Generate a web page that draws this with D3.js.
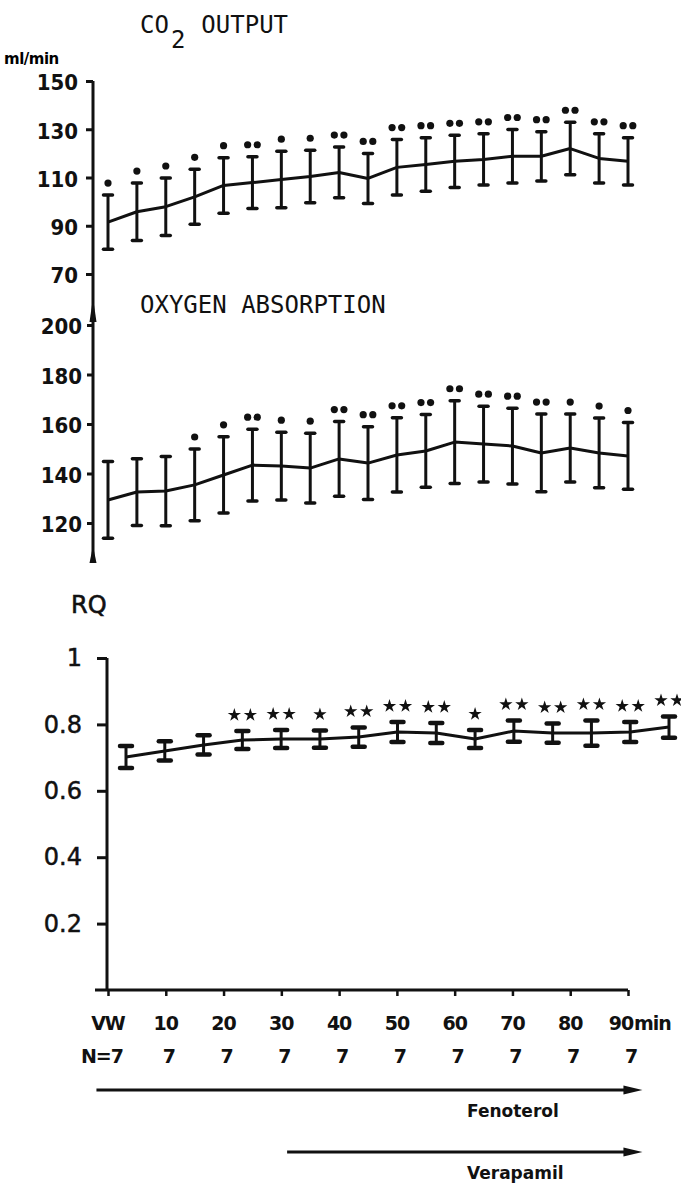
<!DOCTYPE html>
<html>
<head>
<meta charset="utf-8">
<script src="https://cdn.jsdelivr.net/npm/d3@7/dist/d3.min.js"></script>
<style>
body{margin:0;background:#fff;}
svg{display:block;}
.title{font-family:"DejaVu Sans Mono",monospace;font-size:24px;fill:#111;}
.ylab text{font-family:"Liberation Sans Narrow","DejaVu Sans Condensed",sans-serif;font-weight:bold;font-size:22px;fill:#111;}
.rqlab text{font-family:"DejaVu Sans",sans-serif;font-size:24px;fill:#111;stroke:#111;stroke-width:0.5;}
.xlab{font-family:"DejaVu Sans",sans-serif;font-weight:bold;font-size:19px;fill:#111;letter-spacing:-1px;}
.drug{font-family:"DejaVu Sans",sans-serif;font-weight:bold;font-size:17px;fill:#111;}
</style>
</head>
<body>
<script>
(function(){

//sampling times (min) of the CO2 and O2 series
var timePoints = [0,5,10,15,20,25,30,35,40,45,50,55,60,65,70,75,80,85,90];

//CO2 output, ml/min (mean, SD, number of significance dots)
var co2Mean = [91.5,95.8,97.9,102,106.7,107.9,109.2,110.4,112.1,109.6,114.2,115.4,116.7,117.5,118.8,118.8,122,117.9,116.7];
var co2Sd   = [11.2,11.9,11.9,11.4,11.5,10.7,11.7,10.9,10.5,10.4,11.5,11.1,10.8,10.6,11.1,10.2,10.9,10.2,9.8];
var co2Sig  = [1,1,1,1,1,2,1,1,2,2,2,2,2,2,2,2,2,2,2];

//oxygen absorption, ml/min
var o2Mean = [129.3,132.5,132.9,135.4,139.4,143.4,143,142.2,145.9,144.2,147.5,149.1,152.7,151.9,151.1,148.3,150.3,148.3,147.1];
var o2Sd   = [15.5,13.5,14,14.5,15.4,14.5,13.7,14.1,15.1,14.7,15,14.7,16.7,15.3,15.3,15.7,13.7,14.1,13.5];
var o2Sig  = [0,0,0,1,1,2,1,1,2,2,2,2,2,2,2,2,1,1,1];

//respiratory quotient
var rqMean = [0.702,0.720,0.738,0.753,0.756,0.756,0.762,0.777,0.774,0.756,0.780,0.774,0.774,0.777,0.792];
var rqSd   = [0.033,0.029,0.029,0.027,0.027,0.026,0.029,0.030,0.030,0.027,0.032,0.029,0.038,0.030,0.032];
var rqSig  = [0,0,0,2,2,1,2,2,2,1,2,2,2,2,2];

//axis ticks and labels
var co2Ticks = [70,90,110,130,150];
var o2Ticks = [120,140,160,180,200];
var rqTicks = [0.2,0.4,0.6,0.8,1];
var timeTicks = [0,10,20,30,40,50,60,70,80,90];
var timeLabels = ["VW","10","20","30","40","50","60","70","80","90"];
var nLabels = ["N=7","7","7","7","7","7","7","7","7","7"];

//drug periods (min)
var drugNames = ["Fenoterol","Verapamil"];
var drugStart = [-2,31];
var drugEnd = [92.5,92.5];

var width = 681, height = 1183;

drawChart();

function drawChart(){

    var svg = d3.select("body").append("svg")
        .attr("width", width)
        .attr("height", height);

    //shared time scale
    var xTime = d3.scaleLinear().domain([0,90]).range([108,628]);

    //panel y scales
    var yCo2 = d3.scaleLinear().domain([70,150]).range([274,81]);
    var yO2 = d3.scaleLinear().domain([120,200]).range([523,325]);
    var yRq = d3.scaleLinear().domain([0,1]).range([990,658]);

    //rq points are spread on their own grid
    var xRq = d3.scalePoint().domain(d3.range(rqMean.length)).range([126,669]);

    //titles
    var t1 = svg.append("text").attr("class","title").attr("x",140).attr("y",33);
    t1.append("tspan").text("CO");
    t1.append("tspan").attr("dy",15).attr("dx",2).text("2");
    t1.append("tspan").attr("dy",-15).attr("dx",16).text("OUTPUT");

    svg.append("text").attr("class","title").attr("x",140).attr("y",313)
        .text("OXYGEN ABSORPTION");

    svg.append("text").attr("x",4).attr("y",64)
        .style("font-family","DejaVu Sans, sans-serif")
        .style("font-weight","bold").style("font-size","15px")
        .style("letter-spacing","-0.5px")
        .text("ml/min");

    svg.append("text").attr("x",71).attr("y",613)
        .style("font-family","DejaVu Sans, sans-serif")
        .style("font-size","24px").style("fill","#111")
        .style("stroke","#111").style("stroke-width","0.6")
        .text("RQ");

    //left axis of upper two panels (one continuous line)
    svg.append("line")
        .attr("x1",93).attr("x2",93).attr("y1",yCo2(150)).attr("y2",562)
        .attr("stroke","#111").attr("stroke-width",3);
    svg.append("path")
        .attr("d","M93,298 L89.5,322 L96.5,322 Z").attr("fill","#111");
    svg.append("path")
        .attr("d","M93,546 L89.5,563 L96.5,563 Z").attr("fill","#111");

    var axCo2 = svg.append("g").attr("class","ylab")
        .attr("transform","translate(93,0)")
        .call(d3.axisLeft(yCo2).tickValues(co2Ticks).tickSize(7).tickPadding(8));
    var axO2 = svg.append("g").attr("class","ylab")
        .attr("transform","translate(93,0)")
        .call(d3.axisLeft(yO2).tickValues(o2Ticks).tickSize(6).tickPadding(5));
    [axCo2, axO2].forEach(function(ax){
        ax.select(".domain").remove();
        ax.selectAll(".tick line").attr("stroke","#111").attr("stroke-width",3);
        ax.selectAll(".tick text").attr("dy","0.4em");
    });

    //RQ axes
    svg.append("line")
        .attr("x1",107).attr("x2",107).attr("y1",yRq(1)).attr("y2",yRq(0))
        .attr("stroke","#111").attr("stroke-width",3);
    svg.append("line")
        .attr("x1",95).attr("x2",xTime(90)).attr("y1",yRq(0)).attr("y2",yRq(0))
        .attr("stroke","#111").attr("stroke-width",3);

    var axRq = svg.append("g").attr("class","rqlab")
        .attr("transform","translate(107,0)")
        .call(d3.axisLeft(yRq).tickValues(rqTicks).tickSize(10).tickPadding(15)
            .tickFormat(function(d){ return d === 1 ? "1" : d3.format(".1f")(d); }));
    axRq.select(".domain").remove();
    axRq.selectAll(".tick line").attr("stroke","#111").attr("stroke-width",3);

    var axT = svg.append("g")
        .attr("transform","translate(0," + yRq(0) + ")")
        .call(d3.axisBottom(xTime).tickValues(timeTicks).tickSize(6).tickFormat(""));
    axT.select(".domain").remove();
    axT.selectAll(".tick line").attr("stroke","#111").attr("stroke-width",2.5);

    //time labels
    svg.selectAll(".tlab")
        .data(timeTicks)
        .enter()
        .append("text")
        .attr("class","xlab tlab")
        .attr("x", function(d,i){ return xTime(d) + (i === timeTicks.length-1 ? -7 : 0); })
        .attr("y",1030)
        .attr("text-anchor","middle")
        .text(function(d,i){ return timeLabels[i]; });
    svg.append("text").attr("class","xlab")
        .attr("x", xTime(90) + 6).attr("y",1030)
        .text("min");

    svg.selectAll(".nlab")
        .data(timeTicks)
        .enter()
        .append("text")
        .attr("class","xlab nlab")
        .attr("x", function(d,i){ return xTime(d) + (i === 0 ? -6 : 3); })
        .attr("y",1063)
        .attr("text-anchor","middle")
        .text(function(d,i){ return nLabels[i]; });

    //drug arrows
    var drugY = [1090,1152];
    drugNames.forEach(function(name,i){
        var x0 = xTime(drugStart[i]), x1 = xTime(drugEnd[i]);
        svg.append("line")
            .attr("x1",x0).attr("x2",x1-12).attr("y1",drugY[i]).attr("y2",drugY[i])
            .attr("stroke","#111").attr("stroke-width",3);
        svg.append("path")
            .attr("d","M" + x1 + "," + drugY[i] + " L" + (x1-19) + "," + (drugY[i]-4.5) +
                " L" + (x1-19) + "," + (drugY[i]+4.5) + " Z")
            .attr("fill","#111");
        svg.append("text").attr("class","drug")
            .attr("x",467).attr("y",drugY[i]+27)
            .text(name);
    });

    //series
    var xTop = function(i){ return xTime(timePoints[i]); };
    drawSeries(svg, co2Mean, co2Sd, co2Sig, xTop, yCo2, {cap:9, capW:3.5, dots:true, gap:12});
    drawSeries(svg, o2Mean, o2Sd, o2Sig, xTop, yO2, {cap:9, capW:3.5, dots:true, gap:12});
    drawSeries(svg, rqMean, rqSd, rqSig, function(i){ return xRq(i); }, yRq, {cap:12, capW:4.5, dots:false, gap:16});
};

function drawSeries(svg, mean, sd, sig, xf, yf, opt){

    var g = svg.append("g");
    var idx = d3.range(mean.length);

    //mean line
    var line = d3.line()
        .x(function(i){ return xf(i); })
        .y(function(i){ return yf(mean[i]); });
    g.append("path")
        .datum(idx)
        .attr("d", line)
        .attr("fill","none")
        .attr("stroke","#111")
        .attr("stroke-width",3)
        .attr("stroke-linejoin","round");

    //error bars
    var bars = g.selectAll(".bar")
        .data(idx)
        .enter()
        .append("g");
    bars.append("line")
        .attr("x1", xf).attr("x2", xf)
        .attr("y1", function(i){ return yf(mean[i]+sd[i]); })
        .attr("y2", function(i){ return yf(mean[i]-sd[i]); })
        .attr("stroke","#111").attr("stroke-width",3);
    [1,-1].forEach(function(s){
        bars.append("line")
            .attr("x1", function(i){ return xf(i) - opt.cap/2; })
            .attr("x2", function(i){ return xf(i) + opt.cap/2; })
            .attr("y1", function(i){ return yf(mean[i]+s*sd[i]); })
            .attr("y2", function(i){ return yf(mean[i]+s*sd[i]); })
            .attr("stroke","#111").attr("stroke-width",opt.capW)
            .attr("stroke-linecap","round");
    });

    //significance marks
    var marks = [];
    idx.forEach(function(i){
        for (var k=0; k<sig[i]; k++){
            var off = sig[i] === 1 ? 0 : (k === 0 ? -1 : 1);
            marks.push({i:i, off:off});
        };
    });
    if (opt.dots){
        g.selectAll(".sig")
            .data(marks)
            .enter()
            .append("circle")
            .attr("cx", function(d){ return xf(d.i) + d.off*4.8; })
            .attr("cy", function(d){ return yf(mean[d.i]+sd[d.i]) - opt.gap; })
            .attr("r",3.6)
            .attr("fill","#111");
    } else {
        var star = d3.symbol().type(d3.symbolStar).size(55);
        g.selectAll(".sig")
            .data(marks)
            .enter()
            .append("path")
            .attr("d", star)
            .attr("transform", function(d){
                return "translate(" + (xf(d.i) + d.off*8) + "," + (yf(mean[d.i]+sd[d.i]) - opt.gap) + ")";
            })
            .attr("fill","#111");
    };
};

})();
</script>
</body>
</html>
